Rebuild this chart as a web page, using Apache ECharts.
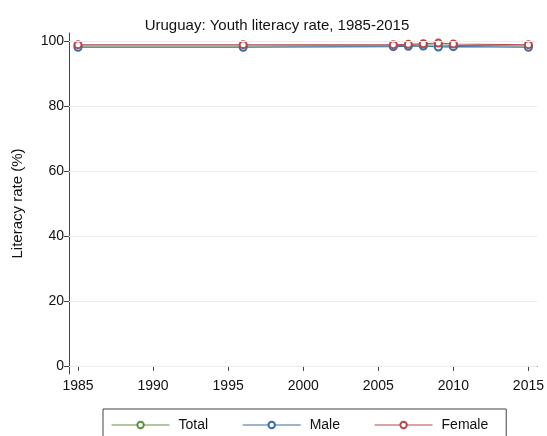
<!DOCTYPE html>
<html><head><meta charset="utf-8">
<script src="https://cdn.jsdelivr.net/npm/echarts@6/dist/echarts.min.js"></script>
<style>html,body{margin:0;padding:0;background:#fff}#c{width:547px;height:436px}</style>
</head><body><div id="c"></div>
<script>
var years = [1985, 1996, 2006, 2007, 2008, 2009, 2010, 2015];
var total = [98.6, 98.6, 98.7, 98.8, 98.9, 98.9, 98.8, 98.6];
var male = [98.2, 98.2, 98.4, 98.5, 98.6, 98.3, 98.4, 98.2];
var female = [99.0, 99.0, 99.0, 99.1, 99.3, 99.5, 99.2, 99.0];
var xTicks = [1985, 1990, 1995, 2000, 2005, 2010, 2015];
var yTicks = [0, 20, 40, 60, 80, 100];

var font = 'Liberation Sans, Arial, sans-serif';
function pairs(v){ return years.map(function(y,i){ return [y, v[i]]; }); }
function ser(name, vals, color){
  return {name:name, type:'line', data:pairs(vals), symbol:'emptyCircle', symbolSize:7,
    lineStyle:{color:color, width:1.1}, itemStyle:{color:color, borderWidth:1.1}, z:3};
}
var chart = echarts.init(document.getElementById('c'));
chart.setOption({
  animation:false,
  backgroundColor:'#fff',
  title:{text:'Uruguay: Youth literacy rate, 1985-2015', left:272, textAlign:'center', top:13,
    textStyle:{fontFamily:font, fontSize:15, fontWeight:'normal', color:'#111'}},
  grid:{left:69, right:6, top:33, bottom:62},
  xAxis:{type:'value', min:1984.4, max:2015.6,
    axisLine:{lineStyle:{color:'#444', width:1}},
    axisTick:{show:true, length:5, customValues:xTicks, lineStyle:{color:'#444'}},
    axisLabel:{customValues:xTicks, fontFamily:font, fontSize:14, color:'#111', margin:5,
      formatter:function(v){return String(v);}},
    splitLine:{show:false}},
  yAxis:{type:'value', min:-2.5, max:102.6,
    name:'Literacy rate (%)', nameLocation:'middle', nameGap:44,
    nameTextStyle:{fontFamily:font, fontSize:15, color:'#111'},
    axisLine:{show:true, lineStyle:{color:'#444', width:1}},
    axisTick:{show:true, length:5, customValues:yTicks, lineStyle:{color:'#444'}},
    axisLabel:{customValues:yTicks, fontFamily:font, fontSize:14, color:'#111', margin:5},
    splitLine:{show:false}},
  legend:{left:103, top:409, itemGap:34, itemWidth:58, itemHeight:8,
    padding:[9,18,14,8], borderColor:'#444', borderWidth:1, borderRadius:0,
    lineStyle:{width:1.1}, itemStyle:{borderWidth:1},
    textStyle:{fontFamily:font, fontSize:14, color:'#111', padding:[0,0,0,4]},
    data:['Total','Male','Female']},
  series:[
    {type:'line', data:[], silent:true,
     markLine:{silent:true, symbol:'none', label:{show:false},
       lineStyle:{color:'#ececec', width:1, type:'solid'},
       data:yTicks.map(function(t){return {yAxis:t};})}},
    ser('Total', total, '#5e8f3e'),
    ser('Male', male, '#356ca4'),
    ser('Female', female, '#b5484e')
  ]
});
</script></body></html>
